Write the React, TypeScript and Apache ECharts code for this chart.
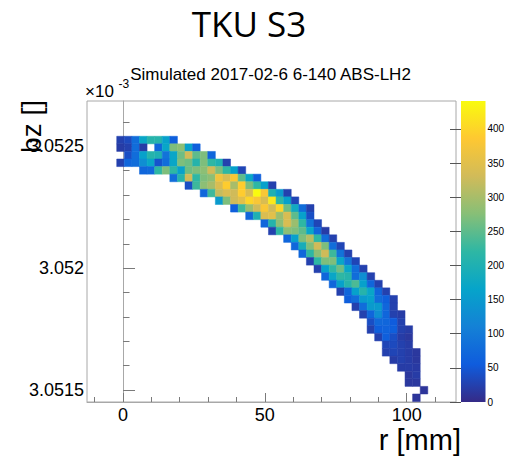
import React, { useEffect, useRef } from "react";
import * as echarts from "echarts";

const TITLE = "TKU S3";
const SUBTITLE = "Simulated 2017-02-6 6-140 ABS-LH2";
const X_TITLE = "r [mm]";
const Y_TITLE = "bz []";
const Y_EXPONENT = "×10";
const Y_EXPONENT_POWER = "-3";

// axis ranges
const X_MIN = -12.7;
const X_MAX = 117.4;
const Y_MIN = 3.051451;
const Y_MAX = 3.052686;
const Z_MAX = 441;

// tick values
const xLabelTicks = [0, 50, 100];
const xMinorTicks = [-10, 10, 20, 30, 40, 60, 70, 80, 90, 110];
const yLabelTicks = [3.0515, 3.052, 3.0525];
const yMinorTicks = [3.0516, 3.0517, 3.0518, 3.0519, 3.0521, 3.0522, 3.0523, 3.0524, 3.0526];
const zTicks = [0, 50, 100, 150, 200, 250, 300, 350, 400];

// histogram binning (first column's left edge, first row's top edge, bin sizes)
const X_EDGE0 = -2.22;
const X_BIN = 2.675;
const Y_EDGE0 = 3.0525413;
const Y_BIN = 0.0000311;

// first filled column of each row (row 0 = top)
const rowStart = [0, 0, 1, 0, 3, 7, 9, 11, 13, 15, 17, 19, 20, 22, 23, 24, 25, 26, 27, 28, 29, 30, 31, 32, 33, 33, 34, 35, 35, 36, 37, 38, 38, 40, 39];

// bin contents of each row, left to right (0 = empty bin)
const rowCounts = [
  [25, 35, 80, 170, 210, 210, 160, 60],
  [20, 25, 80, 20, 0, 70, 170, 270, 280, 160, 60],
  [40, 80, 160, 210, 200, 90, 170, 260, 330, 250, 270, 70],
  [25, 70, 80, 130, 170, 45, 80, 170, 270, 260, 210, 270, 220, 200, 25],
  [70, 75, 220, 270, 220, 160, 260, 270, 280, 330, 270, 220, 160, 30],
  [80, 210, 330, 220, 270, 280, 370, 340, 380, 250, 170, 60],
  [40, 230, 280, 300, 340, 390, 300, 390, 270, 220, 160, 25],
  [70, 230, 320, 340, 330, 390, 340, 441, 380, 200, 150, 25],
  [150, 270, 330, 350, 400, 380, 340, 420, 220, 160, 30],
  [60, 230, 290, 330, 380, 330, 400, 260, 180, 80, 25],
  [70, 200, 340, 350, 290, 340, 250, 160, 40],
  [70, 210, 280, 340, 290, 220, 90, 30],
  [25, 220, 280, 270, 250, 170, 70, 20],
  [70, 160, 270, 310, 220, 80, 25],
  [70, 190, 270, 330, 270, 80, 30],
  [70, 220, 280, 330, 230, 90, 25],
  [25, 220, 270, 270, 170, 90, 30],
  [25, 160, 220, 260, 170, 80, 25],
  [70, 170, 220, 210, 80, 130, 25],
  [70, 160, 210, 240, 160, 70, 25],
  [25, 70, 160, 210, 170, 70, 25],
  [60, 80, 150, 160, 80, 60, 25],
  [25, 80, 150, 150, 70, 25],
  [25, 70, 130, 70, 25, 20],
  [40, 75, 70, 55, 25],
  [25, 60, 65, 60, 25, 20],
  [25, 60, 40, 20, 15],
  [30, 35, 25, 20],
  [25, 30, 25, 20, 15],
  [20, 25, 20, 15],
  [20, 20, 18],
  [15, 20],
  [15, 15],
  [12],
  [12],
];

// ROOT kBird palette
const bird = ["#352a87", "#0f5cdd", "#1481d6", "#06a4ca", "#2eb7a4", "#87bf77", "#d1bb59", "#fec832", "#f9fb0e"];

const FONT = "'Liberation Sans', Arial, sans-serif";

function buildCells() {
  const cells: number[][] = [];
  rowCounts.forEach((row, r) => {
    row.forEach((v, i) => {
      if (v > 0) {
        const c = rowStart[r] + i;
        cells.push([X_EDGE0 + (c + 0.5) * X_BIN, Y_EDGE0 - (r + 0.5) * Y_BIN, v]);
      }
    });
  });
  return cells;
}

export default function App() {
  const ref = useRef<HTMLDivElement>(null);
  useEffect(() => {
    if (!ref.current) return;
    const chart = echarts.init(ref.current, null, { renderer: "svg" });
    const cells = buildCells();
    const frameColor = "#a8a8a8";
    const tickColor = "#7a7a7a";
    const fmtY = (v: number) => String(Math.round(v * 1e4) / 1e4);
    const option: any = {
      animation: false,
      backgroundColor: "#ffffff",
      grid: [
        { left: 87, top: 101, width: 369, height: 301, show: true, borderColor: frameColor, borderWidth: 1, backgroundColor: "transparent", outerBoundsMode: "none" },
        { left: 461, top: 101, width: 24.5, height: 301, outerBoundsMode: "none" },
      ],
      xAxis: [
        {
          type: "value", gridIndex: 0, min: X_MIN, max: X_MAX, position: "bottom",
          axisLine: { show: true, lineStyle: { color: frameColor, width: 1 } },
          axisTick: { show: true, inside: true, length: 9, customValues: xLabelTicks, lineStyle: { color: tickColor } },
          axisLabel: { show: true, customValues: xLabelTicks, fontSize: 18, fontFamily: FONT, color: "#000", margin: 4 },
          splitLine: { show: false },
        },
        {
          type: "value", gridIndex: 0, min: X_MIN, max: X_MAX, position: "bottom", offset: 0,
          axisLine: { show: false },
          axisTick: { show: true, inside: true, length: 5, customValues: xMinorTicks, lineStyle: { color: tickColor } },
          axisLabel: { show: false },
          splitLine: { show: false },
        },
        { type: "value", gridIndex: 1, min: 0, max: 1, show: false },
      ],
      yAxis: [
        {
          type: "value", gridIndex: 0, min: Y_MIN, max: Y_MAX, position: "left",
          axisLine: { show: true, lineStyle: { color: frameColor, width: 1 } },
          axisTick: { show: true, inside: true, length: 12, customValues: yLabelTicks, lineStyle: { color: tickColor } },
          axisLabel: { show: true, customValues: yLabelTicks, formatter: fmtY, fontSize: 18, fontFamily: FONT, color: "#000", margin: 3 },
          splitLine: { show: false },
        },
        {
          type: "value", gridIndex: 0, min: Y_MIN, max: Y_MAX, position: "left", offset: 0,
          axisLine: { show: false },
          axisTick: { show: true, inside: true, length: 6.5, customValues: yMinorTicks, lineStyle: { color: tickColor } },
          axisLabel: { show: false },
          splitLine: { show: false },
        },
        {
          type: "value", gridIndex: 1, min: 0, max: Z_MAX, position: "right",
          axisLine: { show: false },
          axisTick: { show: true, inside: true, length: 11, customValues: zTicks, lineStyle: { color: "#555" } },
          axisLabel: { show: true, customValues: zTicks, fontSize: 10, fontFamily: FONT, color: "#000", margin: 2 },
          splitLine: { show: false },
        },
      ],
      visualMap: {
        type: "continuous", show: false, min: 0, max: Z_MAX, dimension: 2, seriesIndex: 0,
        inRange: { color: bird },
      },
      series: [
        {
          type: "custom", xAxisIndex: 0, yAxisIndex: 0, clip: true,
          encode: { x: 0, y: 1 },
          data: cells,
          renderItem: (_p: any, api: any) => {
            const x = api.value(0);
            const y = api.value(1);
            const a = api.coord([x - X_BIN / 2, y + Y_BIN / 2]);
            const b = api.coord([x + X_BIN / 2, y - Y_BIN / 2]);
            const fill = api.visual("color");
            return {
              type: "rect",
              shape: { x: a[0], y: a[1], width: b[0] - a[0], height: b[1] - a[1] },
              style: { fill, stroke: fill, lineWidth: 0.5 },
            };
          },
        },
        {
          type: "custom", xAxisIndex: 2, yAxisIndex: 2,
          encode: { x: 0, y: 1 },
          data: [[0, Z_MAX]],
          renderItem: (_p: any, api: any) => {
            const a = api.coord([0, Z_MAX]);
            const b = api.coord([1, 0]);
            const stops = bird.map((c, i) => ({ offset: i / (bird.length - 1), color: c }));
            return {
              type: "rect",
              shape: { x: a[0], y: a[1], width: b[0] - a[0], height: b[1] - a[1] },
              style: { fill: new echarts.graphic.LinearGradient(0, 1, 0, 0, stops) },
            };
          },
        },
      ],
      graphic: [
        { type: "text", x: 249, y: 23, style: { text: TITLE, fontSize: 35, fontFamily: "'Open Sans', sans-serif", fill: "#000", align: "center", verticalAlign: "middle" } },
        { type: "text", x: 270.5, y: 74, style: { text: SUBTITLE, fontSize: 17, fontFamily: FONT, fill: "#000", align: "center", verticalAlign: "middle" } },
        { type: "text", x: 85, y: 91, style: { text: Y_EXPONENT, fontSize: 17, fontFamily: FONT, fill: "#000", align: "left", verticalAlign: "middle" } },
        { type: "text", x: 118.5, y: 84, style: { text: Y_EXPONENT_POWER, fontSize: 12, fontFamily: FONT, fill: "#000", align: "left", verticalAlign: "middle" } },
        { type: "text", x: 31, y: 100, rotation: Math.PI / 2, style: { text: Y_TITLE, fontSize: 28, fontFamily: FONT, fill: "#000", align: "right", verticalAlign: "middle" } },
        { type: "text", x: 461, y: 440, style: { text: X_TITLE, fontSize: 29, fontFamily: FONT, fill: "#000", align: "right", verticalAlign: "middle" } },
      ],
    };
    chart.setOption(option);
    return () => chart.dispose();
  }, []);
  return <div ref={ref} style={{ position: "fixed", left: 0, top: 0, width: 520, height: 460 }} />;
}
